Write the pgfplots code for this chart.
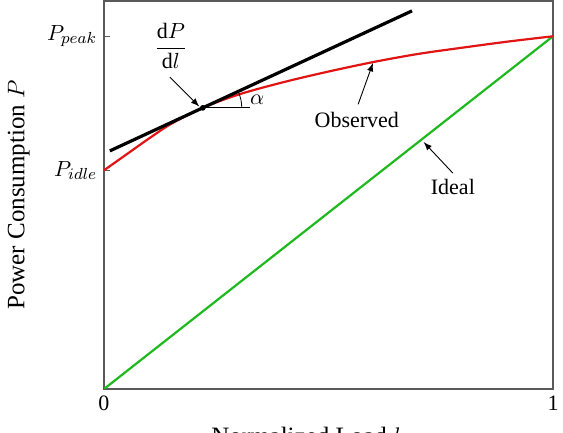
\documentclass[border=0pt]{standalone}
\usepackage{amsmath}
\usepackage{pgfplots}
\pgfplotsset{compat=1.18}
\usepackage{fontspec}
\setmainfont{Liberation Serif}
\definecolor{obsred}{RGB}{225,20,20}
\definecolor{idgreen}{RGB}{30,185,30}
\definecolor{framegray}{RGB}{90,90,90}
\begin{document}
\begin{tikzpicture}
\begin{axis}[
  name=ax,
  scale only axis,
  width=224.5pt, height=194pt,
  xmin=0, xmax=1, ymin=0, ymax=1.1,
  axis line style={framegray, line width=0.8pt},
  xtick={0,1}, xticklabels={0,1},
  ytick={0.62,1}, yticklabels={$P_{idle}$,$P_{peak}$},
  xtick pos=bottom, ytick pos=left,
  tick align=inside,
  major tick length=3pt,
  tick style={framegray, line width=0.6pt},
  xtick style={draw=none},
  tick label style={font=\fontsize{11}{13}\selectfont},
  label style={font=\fontsize{12.5}{14}\selectfont},
  xlabel={Normalized Load $l$},
  ylabel={Power Consumption $P$},
  xlabel style={at={(axis description cs:0.45,0)}, anchor=center, yshift=-23.5pt},
  ylabel style={at={(axis description cs:-0.19,0.5)}, anchor=center},
]
% Ideal
\addplot[idgreen, line width=1.1pt] coordinates {(0,0) (1,1)};
% Observed
\addplot[obsred, line width=1.1pt, smooth] coordinates {
 (0,0.62) (0.05,0.665) (0.10,0.71) (0.15,0.752) (0.22,0.797) (0.30,0.835)
 (0.40,0.87) (0.50,0.90) (0.60,0.927) (0.70,0.950) (0.80,0.968) (0.90,0.985) (1.00,1.0)};
% Tangent
\addplot[black, line width=1.6pt] coordinates {(0.013,0.675) (0.686,1.072)};
% horizontal reference
\addplot[black, line width=0.4pt] coordinates {(0.22,0.797) (0.325,0.797)};
% tangent point
\addplot[only marks, mark=*, mark size=1.2pt, black] coordinates {(0.22,0.797)};
% angle arc
\draw[line width=0.4pt] (axis cs:0.22,0.797) ++(0:19.5pt) arc[start angle=0, end angle=25, radius=19.5pt];
\node[font=\fontsize{11}{13}\selectfont] at (axis cs:0.341,0.819) {$\alpha$};
% dP/dl
\node[font=\fontsize{11}{13}\selectfont] at (axis cs:0.149,0.972) {$\dfrac{\mathrm{d}P}{\mathrm{d}l}$};
\draw[-latex, line width=0.45pt] (axis cs:0.147,0.884) -- (axis cs:0.212,0.801);
% Observed label
\node[font=\fontsize{11}{13}\selectfont] at (axis cs:0.563,0.762) {Observed};
\draw[-latex, line width=0.45pt] (axis cs:0.566,0.807) -- (axis cs:0.599,0.924);
% Ideal label
\node[font=\fontsize{11}{13}\selectfont] at (axis cs:0.777,0.572) {Ideal};
\draw[-latex, line width=0.45pt] (axis cs:0.777,0.612) -- (axis cs:0.712,0.700);
\end{axis}
\pgfresetboundingbox
\path ([xshift=-52pt,yshift=-22pt]ax.south west) rectangle ([xshift=5pt,yshift=0.5pt]ax.north east);
\end{tikzpicture}
\end{document}
